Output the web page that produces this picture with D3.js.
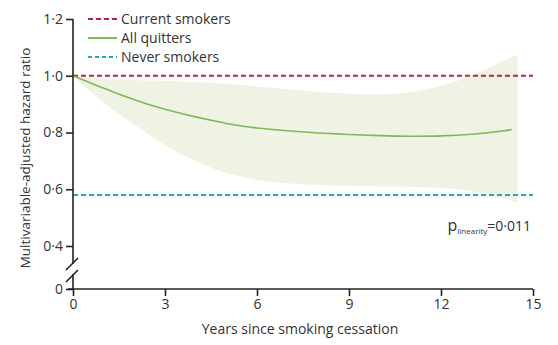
<!DOCTYPE html>
<html>
<head>
<meta charset="utf-8">
<script src="https://cdn.jsdelivr.net/npm/d3@7"></script>
<style>
  html, body { margin: 0; padding: 0; background: #fff; }
  svg { display: block; font-family: "Open Sans", "Lato", sans-serif; }
</style>
</head>
<body>
<svg id="chart" width="558" height="345"></svg>
<script>
// Years since quitting, with the fitted hazard ratio for all quitters
const lineYears  = [0, 0.5, 1, 1.5, 2, 2.5, 3, 3.5, 4, 4.5, 5, 5.5, 6, 7, 8, 9, 10, 11, 12, 13, 14, 14.3];
const lineValues = [1.0, 0.978, 0.956, 0.935, 0.916, 0.898, 0.882, 0.868, 0.855, 0.843, 0.832, 0.823, 0.816, 0.806, 0.798, 0.793, 0.789, 0.787, 0.788, 0.794, 0.805, 0.81];

// 95% confidence band around the quitters' curve
const bandYears = [0, 0.5, 1, 1.5, 2, 2.5, 3, 3.5, 4, 5, 6, 7, 8, 9, 10, 11, 12, 13, 14, 14.5];
const bandUpper = [1.0, 0.993, 0.988, 0.986, 0.984, 0.983, 0.982, 0.98, 0.978, 0.972, 0.962, 0.952, 0.943, 0.937, 0.934, 0.942, 0.965, 1.0, 1.05, 1.075];
const bandLower = [1.0, 0.95, 0.905, 0.866, 0.828, 0.79, 0.756, 0.726, 0.70, 0.657, 0.633, 0.621, 0.615, 0.612, 0.61, 0.609, 0.604, 0.593, 0.57, 0.553];

// Reference groups
const currentSmokersHR = 1.0;
const neverSmokersHR = 0.58;

const xTicks = [0, 3, 6, 9, 12, 15];
const yTicks = [0, 0.4, 0.6, 0.8, 1.0, 1.2];
const yTickLabels = ["0", "0·4", "0·6", "0·8", "1·0", "1·2"];

const legendLabels = ["Current smokers", "All quitters", "Never smokers"];

const colCurrent = "#bc1f4c";
const colQuit = "#7db95a";
const colNever = "#26a5be";
const colBand = "#eef3e3";
const colAxis = "#222";
const colText = "#333";

const svg = d3.select("#chart");

const x = d3.scaleLinear().domain([0, 15]).range([73, 533]);
// Broken axis: 0 sits below a gap, 0·4–1·2 is linear
const y = d3.scaleLinear().domain([0, 0.4, 1.2]).range([289, 246, 19]);

// Confidence band
const area = d3.area()
  .x((d, i) => x(bandYears[i]))
  .y0((d, i) => y(bandLower[i]))
  .y1((d, i) => y(bandUpper[i]))
  .curve(d3.curveCatmullRom.alpha(0.5));
svg.append("path")
  .attr("d", area(bandYears))
  .attr("fill", colBand);

// Reference lines
svg.append("line")
  .attr("x1", x(0)).attr("x2", x(15))
  .attr("y1", y(currentSmokersHR)).attr("y2", y(currentSmokersHR))
  .attr("stroke", colCurrent).attr("stroke-width", 2).attr("stroke-dasharray", "5,3");
svg.append("line")
  .attr("x1", x(0)).attr("x2", x(15))
  .attr("y1", y(neverSmokersHR)).attr("y2", y(neverSmokersHR))
  .attr("stroke", colNever).attr("stroke-width", 2).attr("stroke-dasharray", "5,3");

// Quitters curve
const line = d3.line()
  .x((d, i) => x(lineYears[i]))
  .y((d, i) => y(lineValues[i]))
  .curve(d3.curveCatmullRom.alpha(0.5));
svg.append("path")
  .attr("d", line(lineYears))
  .attr("fill", "none")
  .attr("stroke", colQuit)
  .attr("stroke-width", 1.6);

// X axis
const xAxis = d3.axisBottom(x).tickValues(xTicks).tickSize(7).tickPadding(3).tickFormat(d3.format("d"));
const gx = svg.append("g").attr("transform", `translate(0,${y(0)})`).call(xAxis);
gx.select(".domain").attr("d", `M${x(0) - 5},0H${x(15)}`);

// Y axis with break
const yAxis = d3.axisLeft(y).tickValues(yTicks).tickSize(7).tickPadding(3)
  .tickFormat((d, i) => yTickLabels[i]);
const gy = svg.append("g").attr("transform", `translate(${x(0)},0)`).call(yAxis);
gy.select(".domain").remove();
gy.append("line").attr("x1", 0).attr("x2", 0).attr("y1", y(1.2)).attr("y2", 264).attr("stroke", colAxis);
gy.append("line").attr("x1", 0).attr("x2", 0).attr("y1", 274).attr("y2", y(0)).attr("stroke", colAxis);
// break marks
gy.append("line").attr("x1", -7).attr("y1", 270).attr("x2", 5).attr("y2", 258).attr("stroke", colAxis);
gy.append("line").attr("x1", -7).attr("y1", 282).attr("x2", 5).attr("y2", 270).attr("stroke", colAxis);

[gx, gy].forEach(g => {
  g.selectAll("path, line").attr("stroke", colAxis).attr("stroke-width", 1.6);
  g.selectAll("text").attr("fill", colText).attr("font-size", 14).attr("font-family", "'Open Sans', sans-serif");
});

// Axis titles
svg.append("text")
  .attr("x", (x(0) + x(15)) / 2 - 3).attr("y", 334)
  .attr("text-anchor", "middle").attr("font-size", 14).attr("fill", colText)
  .text("Years since smoking cessation");
svg.append("text")
  .attr("transform", `translate(30,${(19 + 289) / 2 + 4}) rotate(-90)`)
  .attr("text-anchor", "middle").attr("font-size", 13.5).attr("fill", colText)
  .text("Multivariable-adjusted hazard ratio");

// Legend
const legendStyles = [
  { color: colCurrent, dash: "5,3" },
  { color: colQuit, dash: null },
  { color: colNever, dash: "4,3" }
];
const legend = svg.append("g");
legendLabels.forEach((lab, i) => {
  const ly = 19 + i * 19;
  legend.append("line")
    .attr("x1", 88).attr("x2", 117).attr("y1", ly).attr("y2", ly)
    .attr("stroke", legendStyles[i].color).attr("stroke-width", 2)
    .attr("stroke-dasharray", legendStyles[i].dash);
  legend.append("text")
    .attr("x", 121).attr("y", ly + 5)
    .attr("font-size", 14).attr("fill", colText)
    .text(lab);
});

// Test for non-linearity
const pText = svg.append("text")
  .attr("x", 531).attr("y", 231)
  .attr("text-anchor", "end").attr("font-size", 14).attr("fill", colText);
pText.append("tspan").attr("font-size", 16).text("p");
pText.append("tspan").attr("font-size", 8).attr("dy", 3).text("linearity");
pText.append("tspan").attr("dy", -3).text("=0·011");
</script>
</body>
</html>
